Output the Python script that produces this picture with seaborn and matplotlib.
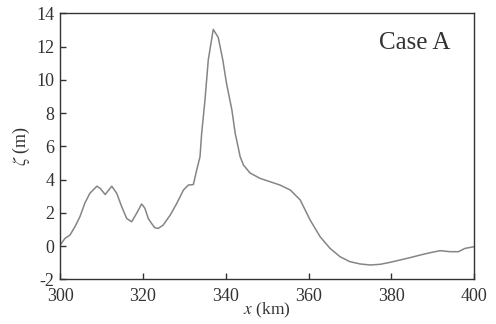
import matplotlib
matplotlib.use("Agg")
import matplotlib.pyplot as plt
import seaborn as sns
import pandas as pd

x_km = [300.0, 301.2, 302.4, 303.6, 304.8, 306.0, 307.2, 308.9, 309.7, 310.9, 312.5, 313.7,
        314.9, 316.1, 317.3, 318.5, 319.7, 320.5, 321.3, 322.1, 322.9, 323.7, 324.9, 326.6,
        328.2, 329.8, 331.0, 332.2, 333.0, 333.8, 334.2, 335.0, 335.8, 337.0, 338.2, 339.3,
        340.2, 341.5, 342.3, 343.5, 344.3, 345.9, 348.3, 350.7, 353.1, 355.6, 358.0, 360.4,
        362.8, 365.2, 367.6, 370.0, 372.5, 374.9, 377.3, 379.7, 382.1, 384.5, 387.0, 389.4,
        391.8, 394.2, 396.2, 397.8, 400.0]
zeta_m = [0.05, 0.46, 0.66, 1.16, 1.76, 2.58, 3.17, 3.60, 3.47, 3.10, 3.60, 3.17,
          2.36, 1.66, 1.46, 1.97, 2.53, 2.27, 1.66, 1.36, 1.10, 1.06, 1.26, 1.86,
          2.57, 3.37, 3.67, 3.70, 4.57, 5.37, 6.78, 8.78, 11.2, 13.03, 12.55, 11.2,
          9.78, 8.18, 6.78, 5.37, 4.87, 4.39, 4.07, 3.87, 3.67, 3.37, 2.77, 1.56,
          0.56, -0.14, -0.64, -0.94, -1.08, -1.14, -1.10, -0.98, -0.84, -0.70, -0.54, -0.40,
          -0.28, -0.34, -0.34, -0.14, -0.04]
x_ticks = [300, 320, 340, 360, 380, 400]
y_ticks = [-2, 0, 2, 4, 6, 8, 10, 12, 14]

sns.set_style("white")
plt.rcParams['font.family'] = ['Liberation Serif', 'DejaVu Serif']
plt.rcParams['mathtext.fontset'] = 'stix'
plt.rcParams['axes.unicode_minus'] = False

df = pd.DataFrame({"x": x_km, "zeta": zeta_m})

fig = plt.figure(figsize=(4.96, 3.24), dpi=100)
ax = fig.add_axes([0.121, 0.138, 0.835, 0.821])
sns.lineplot(data=df, x="x", y="zeta", ax=ax, color="#858585", linewidth=1.1)

ax.set_xlim(300, 400)
ax.set_ylim(-2, 14)
ax.set_xticks(x_ticks)
ax.set_yticks(y_ticks)
ax.set_xticklabels([str(t) for t in x_ticks])
ax.set_yticklabels([str(t) for t in y_ticks])
ax.tick_params(direction='in', length=4, width=1, color='#333333', labelsize=13,
               labelcolor='#333333', bottom=True, left=True, top=False, right=False)
ax.tick_params(axis='x', pad=6.5)
ax.tick_params(axis='y', pad=4)
for s in ax.spines.values():
    s.set_color('#333333')
    s.set_linewidth(1.0)

ax.set_xlabel(r'$x$ (km)', fontsize=12.5, color='#333333', labelpad=-3)
ax.set_ylabel(r'$\zeta$ (m)', fontsize=13, color='#333333', labelpad=3)
ax.text(0.857, 0.89, 'Case A', transform=ax.transAxes, ha='center', va='center',
        fontsize=18, color='#333333')

fig.savefig("out.png", dpi=100)
